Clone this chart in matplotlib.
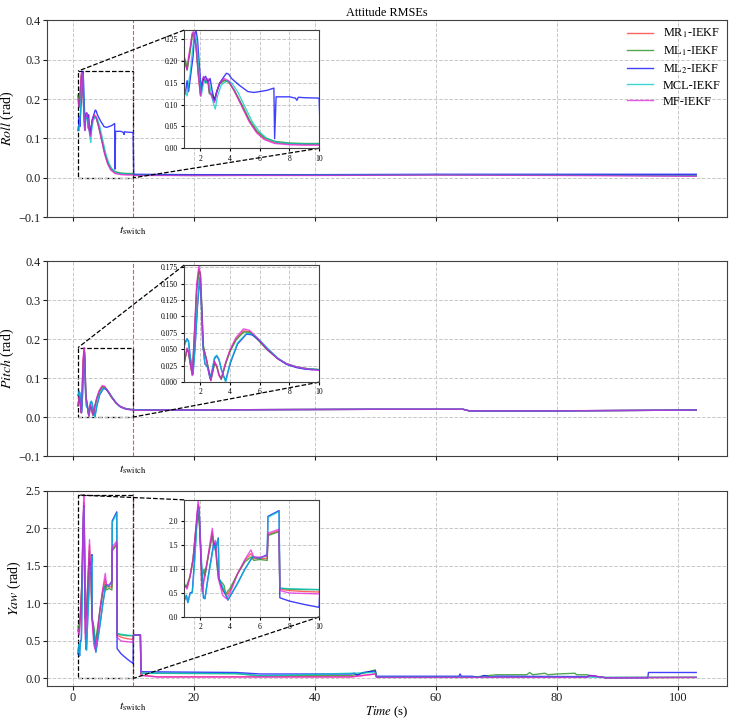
import matplotlib
matplotlib.use("Agg")
import matplotlib.pyplot as plt
from mpl_toolkits.axes_grid1.inset_locator import mark_inset

plt.rcParams['font.family'] = ['Liberation Serif', 'DejaVu Serif']
plt.rcParams['mathtext.fontset'] = 'stix'

labels = [r'MR$_1$-IEKF', r'ML$_1$-IEKF', r'ML$_2$-IEKF', 'MCL-IEKF', 'MF-IEKF']
colors = ['#ff3030', '#1a8a1a', '#0000ff', '#00c8c8', '#e020e0']
t_switch = 10.0

# ---------------- Roll ----------------
roll_t_a = [0.9, 1.0, 1.1, 1.2, 1.3, 1.45, 1.55, 1.7, 1.85, 2.0, 2.1, 2.2, 2.35, 2.5, 2.6, 2.75, 2.95,
            3.1, 3.3, 3.6, 3.9, 4.3, 4.8, 5.3, 5.8, 6.3, 7.0, 8.0, 9.0, 10.0]
roll_mr1 = [0.205, 0.195, 0.18, 0.205, 0.225, 0.262, 0.265, 0.235, 0.172, 0.122, 0.15, 0.162, 0.152, 0.158,
            0.128, 0.122, 0.108, 0.13, 0.149, 0.157, 0.153, 0.131, 0.097, 0.062, 0.037, 0.022, 0.013, 0.01, 0.009, 0.009]
roll_ml1 = [0.21, 0.2, 0.18, 0.2, 0.22, 0.26, 0.262, 0.235, 0.175, 0.125, 0.15, 0.16, 0.15, 0.155,
            0.125, 0.125, 0.11, 0.13, 0.148, 0.155, 0.152, 0.132, 0.1, 0.065, 0.04, 0.025, 0.016, 0.012, 0.011, 0.011]
roll_mf = [0.2, 0.19, 0.18, 0.21, 0.23, 0.265, 0.268, 0.235, 0.17, 0.12, 0.15, 0.165, 0.155, 0.16,
           0.13, 0.12, 0.105, 0.13, 0.15, 0.16, 0.155, 0.13, 0.095, 0.06, 0.035, 0.02, 0.011, 0.008, 0.007, 0.007]
roll_t_c = [0.9, 1.0, 1.1, 1.2, 1.3, 1.45, 1.6, 1.75, 1.9, 2.05, 2.15, 2.3, 2.45, 2.6, 2.75, 2.9, 3.0,
            3.15, 3.4, 3.8, 4.1, 4.5, 5.0, 5.5, 6.0, 6.5, 7.2, 8.0, 9.0, 10.0]
roll_mcl = [0.12, 0.13, 0.12, 0.15, 0.17, 0.22, 0.265, 0.25, 0.18, 0.12, 0.14, 0.16, 0.15, 0.15,
            0.12, 0.1, 0.09, 0.12, 0.145, 0.155, 0.15, 0.13, 0.095, 0.06, 0.037, 0.022, 0.013, 0.011, 0.01, 0.01]
roll_t_b = [0.9, 1.0, 1.1, 1.2, 1.35, 1.5, 1.6, 1.7, 1.8, 1.95, 2.05, 2.2, 2.35, 2.5, 2.65, 2.8, 2.95,
            3.1, 3.3, 3.6, 3.75, 3.9, 4.1, 4.6, 5.2, 5.6, 6.0, 6.5, 6.95, 7.0, 7.1, 7.5, 8.0, 8.4, 8.5,
            8.6, 9.0, 10.0]
roll_ml2 = [0.12, 0.13, 0.155, 0.13, 0.17, 0.21, 0.26, 0.27, 0.25, 0.18, 0.13, 0.16, 0.165, 0.15, 0.16,
            0.13, 0.11, 0.13, 0.15, 0.165, 0.172, 0.17, 0.16, 0.145, 0.13, 0.128, 0.13, 0.133, 0.138, 0.022,
            0.118, 0.118, 0.118, 0.115, 0.11, 0.117, 0.116, 0.115]
roll_tail_t = [10.1, 20, 40, 60, 80, 103]
roll_tail_mr1 = [0.007, 0.006, 0.007, 0.008, 0.007, 0.005]
roll_tail_ml1 = [0.008, 0.007, 0.007, 0.008, 0.007, 0.006]
roll_tail_ml2 = [0.009, 0.008, 0.008, 0.009, 0.009, 0.009]
roll_tail_mcl = [0.007, 0.006, 0.007, 0.008, 0.007, 0.005]
roll_tail_mf = [0.006, 0.006, 0.006, 0.007, 0.006, 0.004]

# ---------------- Pitch ----------------
pitch_t_a = [0.9, 1.0, 1.1, 1.2, 1.3, 1.45, 1.6, 1.75, 1.9, 2.0, 2.1, 2.2, 2.4, 2.55, 2.7, 2.85, 2.95,
             3.1, 3.25, 3.4, 3.7, 4.0, 4.4, 4.9, 5.3, 5.8, 6.5, 7.2, 7.8, 8.5, 9.0, 9.5, 10.0]
pitch_mr1 = [0.029, 0.04, 0.051, 0.045, 0.03, 0.011, 0.075, 0.145, 0.172, 0.162, 0.105, 0.052, 0.035, 0.018,
             0.003, 0.019, 0.03, 0.024, 0.011, 0.005, 0.029, 0.048, 0.066, 0.078, 0.077, 0.067, 0.05, 0.036,
             0.028, 0.023, 0.021, 0.02, 0.019]
pitch_ml1 = [0.028, 0.04, 0.05, 0.045, 0.03, 0.012, 0.07, 0.14, 0.168, 0.165, 0.11, 0.055, 0.035, 0.02,
             0.003, 0.018, 0.028, 0.024, 0.012, 0.004, 0.028, 0.047, 0.064, 0.076, 0.076, 0.066, 0.049, 0.036,
             0.028, 0.023, 0.021, 0.02, 0.019]
pitch_mf = [0.03, 0.04, 0.052, 0.045, 0.03, 0.01, 0.08, 0.15, 0.178, 0.16, 0.1, 0.05, 0.035, 0.015,
            0.002, 0.02, 0.032, 0.025, 0.01, 0.005, 0.03, 0.05, 0.068, 0.081, 0.079, 0.068, 0.05, 0.036,
            0.028, 0.023, 0.021, 0.019, 0.018]
pitch_t_c = [0.9, 1.0, 1.1, 1.2, 1.3, 1.5, 1.65, 1.8, 1.95, 2.05, 2.15, 2.3, 2.5, 2.65, 2.8, 2.95, 3.1,
             3.25, 3.4, 3.55, 3.7, 4.0, 4.5, 5.1, 5.5, 6.0, 6.5, 7.2, 7.8, 8.5, 9.0, 9.5, 10.0]
pitch_mcl = [0.055, 0.06, 0.066, 0.06, 0.04, 0.012, 0.06, 0.12, 0.16, 0.13, 0.06, 0.028, 0.022, 0.005,
             0.02, 0.038, 0.041, 0.035, 0.02, 0.01, 0.0, 0.03, 0.06, 0.074, 0.073, 0.064, 0.052, 0.037,
             0.028, 0.023, 0.021, 0.02, 0.019]
pitch_ml2 = [0.056, 0.062, 0.066, 0.062, 0.04, 0.012, 0.058, 0.115, 0.158, 0.128, 0.06, 0.028, 0.022,
             0.006, 0.018, 0.036, 0.04, 0.034, 0.02, 0.01, 0.002, 0.028, 0.058, 0.073, 0.072, 0.063, 0.051,
             0.036, 0.027, 0.022, 0.02, 0.019, 0.019]
pitch_tail_t = [15, 30, 50, 64.5, 65.5, 80, 103]
pitch_tail = [0.018, 0.019, 0.02, 0.02, 0.016, 0.016, 0.018]

# ---------------- Yaw ----------------
yaw_t_m = [0.9, 1.0, 1.1, 1.3, 1.5, 1.7, 1.85, 1.95, 2.1, 2.3, 2.55, 2.8, 2.9, 3.0, 3.1, 3.25, 3.5, 3.75,
           4.0, 4.5, 5.0, 5.4, 5.6, 6.0, 6.5, 6.55, 7.3, 7.35, 8.0, 9.0, 10.0]
yaw_mf = [0.62, 0.66, 0.58, 0.85, 1.2, 1.9, 2.45, 2.0, 0.52, 0.85, 1.35, 1.85, 1.5, 1.6, 1.2, 0.75, 0.45,
          0.38, 0.5, 0.9, 1.2, 1.4, 1.25, 1.25, 1.27, 1.75, 1.83, 0.55, 0.5, 0.49, 0.48]
yaw_mr1 = [0.64, 0.64, 0.62, 0.85, 1.2, 1.88, 2.35, 1.9, 0.6, 0.9, 1.32, 1.78, 1.48, 1.55, 1.15, 0.78,
           0.55, 0.45, 0.55, 0.9, 1.18, 1.32, 1.22, 1.22, 1.22, 1.72, 1.8, 0.58, 0.55, 0.53, 0.52]
yaw_t_g = [0.9, 1.0, 1.1, 1.3, 1.5, 1.7, 1.85, 1.95, 2.1, 2.25, 2.3, 2.55, 2.8, 2.9, 3.0, 3.2, 3.5, 3.6,
           3.7, 4.0, 4.5, 5.0, 5.4, 5.6, 6.0, 6.5, 6.55, 7.3, 7.35, 8.0, 9.0, 10.0]
yaw_ml1 = [0.7, 0.62, 0.68, 0.85, 1.2, 1.85, 2.2, 1.8, 0.8, 1.0, 0.85, 1.3, 1.7, 1.45, 1.5, 0.8, 0.7, 0.65,
           0.48, 0.6, 0.9, 1.15, 1.25, 1.18, 1.2, 1.18, 1.7, 1.78, 0.6, 0.58, 0.57, 0.57]
yaw_t_b = [0.9, 1.05, 1.15, 1.3, 1.45, 1.6, 1.8, 1.9, 2.05, 2.2, 2.3, 2.5, 2.9, 3.0, 3.2, 3.25, 3.5, 3.85,
           4.5, 5.0, 5.5, 6.0, 6.5, 6.55, 7.3, 7.35, 8.0, 9.0, 10.0]
yaw_ml2 = [0.33, 0.45, 0.3, 0.5, 0.52, 1.2, 2.2, 2.3, 1.2, 0.4, 0.38, 0.8, 1.55, 1.4, 1.65, 0.8, 0.6, 0.35,
           0.7, 1.0, 1.25, 1.23, 1.3, 2.1, 2.22, 0.4, 0.33, 0.26, 0.2]
yaw_mcl = [0.35, 0.45, 0.3, 0.48, 0.5, 1.1, 2.15, 2.28, 1.3, 0.45, 0.38, 0.78, 1.5, 1.42, 1.63, 0.82, 0.62,
           0.36, 0.7, 1.0, 1.25, 1.23, 1.28, 2.08, 2.2, 0.6, 0.59, 0.58, 0.57]
yaw_tail_t_b = [10.05, 11.2, 11.3, 27, 31, 46, 46.5, 47, 48, 50, 50.2, 63.8, 64, 64.2, 66, 67, 68, 69, 70,
                85, 85.5, 88, 95, 95.1, 103]
yaw_tail_ml2 = [0.58, 0.58, 0.09, 0.08, 0.06, 0.06, 0.07, 0.045, 0.08, 0.1, 0.03, 0.03, 0.06, 0.03, 0.03,
                0.015, 0.04, 0.02, 0.03, 0.025, 0.04, 0.01, 0.01, 0.08, 0.08]
yaw_tail_t_g = [10.05, 11.2, 11.3, 27, 31, 46, 48, 50, 50.2, 66, 70, 75, 75.5, 76, 78, 78.5, 80, 83, 83.2,
                85, 85.5, 88, 103]
yaw_tail_ml1 = [0.58, 0.58, 0.07, 0.065, 0.035, 0.04, 0.07, 0.115, 0.015, 0.015, 0.05, 0.05, 0.08, 0.05,
                0.07, 0.05, 0.06, 0.07, 0.05, 0.05, 0.035, 0.012, 0.015]
yaw_tail_t_m = [10.05, 11.2, 11.3, 14, 46, 50, 50.2, 70, 85, 85.5, 88, 103]
yaw_tail_mf = [0.58, 0.58, 0.04, 0.02, 0.02, 0.06, 0.015, 0.015, 0.015, 0.04, 0.01, 0.015]
yaw_tail_mr1 = [0.58, 0.58, 0.045, 0.022, 0.022, 0.06, 0.016, 0.016, 0.016, 0.04, 0.011, 0.015]
yaw_tail_t_c = [10.05, 11.2, 11.3, 27, 31, 50, 50.2, 103]
yaw_tail_mcl = [0.58, 0.58, 0.07, 0.065, 0.035, 0.08, 0.02, 0.015]

roll_series = [
    (roll_t_a + roll_tail_t, roll_mr1 + roll_tail_mr1),
    (roll_t_a + roll_tail_t, roll_ml1 + roll_tail_ml1),
    (roll_t_b + roll_tail_t, roll_ml2 + roll_tail_ml2),
    (roll_t_c + roll_tail_t, roll_mcl + roll_tail_mcl),
    (roll_t_a + roll_tail_t, roll_mf + roll_tail_mf),
]
pitch_series = [
    (pitch_t_a + pitch_tail_t, pitch_mr1 + pitch_tail),
    (pitch_t_a + pitch_tail_t, pitch_ml1 + pitch_tail),
    (pitch_t_c + pitch_tail_t, pitch_ml2 + pitch_tail),
    (pitch_t_c + pitch_tail_t, pitch_mcl + pitch_tail),
    (pitch_t_a + pitch_tail_t, pitch_mf + pitch_tail),
]
yaw_series = [
    (yaw_t_m + yaw_tail_t_m, yaw_mr1 + yaw_tail_mr1),
    (yaw_t_g + yaw_tail_t_g, yaw_ml1 + yaw_tail_ml1),
    (yaw_t_b + yaw_tail_t_b, yaw_ml2 + yaw_tail_ml2),
    (yaw_t_b + yaw_tail_t_c, yaw_mcl + yaw_tail_mcl),
    (yaw_t_m + yaw_tail_t_m, yaw_mf + yaw_tail_mf),
]

panels = [
    dict(series=roll_series, name='Roll', ylim=(-0.1, 0.4), yticks=[-0.1, 0.0, 0.1, 0.2, 0.3, 0.4],
         inset=[0.2015, 0.35, 0.1985, 0.6], iylim=(0, 0.271), iyticks=[0, 0.05, 0.1, 0.15, 0.2, 0.25],
         ifmt='%.2f', rect=[0.064, 0.700, 0.924, 0.272]),
    dict(series=pitch_series, name='Pitch', ylim=(-0.1, 0.4), yticks=[-0.1, 0.0, 0.1, 0.2, 0.3, 0.4],
         inset=[0.2015, 0.379, 0.1985, 0.6], iylim=(0, 0.178),
         iyticks=[0, 0.025, 0.05, 0.075, 0.1, 0.125, 0.15, 0.175], ifmt='%.3f',
         rect=[0.064, 0.370, 0.924, 0.2695]),
    dict(series=yaw_series, name='Yaw', ylim=(-0.1, 2.5), yticks=[0.0, 0.5, 1.0, 1.5, 2.0, 2.5],
         inset=[0.2015, 0.354, 0.1985, 0.6], iylim=(0, 2.445), iyticks=[0, 0.5, 1.0, 1.5, 2.0],
         ifmt='%.1f', rect=[0.064, 0.0525, 0.924, 0.2695]),
]

fig = plt.figure(figsize=(7.36, 7.24), dpi=100)
grid_kw = dict(color='#c8c8c8', linestyle='--', linewidth=0.7)
spine_c = '#404040'
fs = 8.8

for i, p in enumerate(panels):
    ax = fig.add_axes(p['rect'])
    for (t, v), c, lab in zip(p['series'], colors, labels):
        ax.plot(t, v, color=c, lw=1.0, alpha=0.75, label=lab)
    ax.axvline(t_switch, color='red', ls='--', lw=0.8, alpha=0.7)
    ax.set_ylim(*p['ylim'])
    ax.set_yticks(p['yticks'])
    ax.set_xticks([0, 20, 40, 60, 80, 100])
    ax.grid(True, **grid_kw)
    ax.tick_params(labelsize=fs, colors='#202020', length=3, pad=1.5)
    for s in ax.spines.values():
        s.set_color(spine_c)
    ax.set_ylabel(r'$%s$ (rad)' % p['name'], fontsize=10, labelpad=2)
    if i < 2:
        ax.tick_params(labelbottom=False)
        ax.annotate(r'$t_{\rm switch}$', xy=(t_switch, 0), xycoords=('data', 'axes fraction'),
                    xytext=(0, -5), textcoords='offset points', ha='center', va='top', fontsize=fs)
    else:
        ax.annotate(r'$t_{\rm switch}$', xy=(t_switch, 0), xycoords=('data', 'axes fraction'),
                    xytext=(0, -10.5), textcoords='offset points', ha='center', va='top', fontsize=fs)
        ax.set_xlabel(r'$Time$ (s)', fontsize=9.2, labelpad=0)
    if i == 0:
        ax.set_title('Attitude RMSEs', fontsize=fs, pad=3)
        ax.legend(loc='upper right', frameon=False, fontsize=fs, handlelength=2.1,
                  borderaxespad=0.15, labelspacing=0.33, handletextpad=0.8)

    axins = ax.inset_axes(p['inset'])
    for (t, v), c in zip(p['series'], colors):
        axins.plot(t, v, color=c, lw=1.0, alpha=0.75)
    axins.set_xlim(0.9, 10)
    axins.set_ylim(*p['iylim'])
    axins.set_xticks([2, 4, 6, 8, 10])
    axins.set_yticks(p['iyticks'])
    axins.yaxis.set_major_formatter(matplotlib.ticker.FormatStrFormatter(p['ifmt']))
    axins.tick_params(labelsize=5.5, length=2.5, pad=2)
    axins.grid(True, **grid_kw)
    for s in axins.spines.values():
        s.set_color(spine_c)
    mark_inset(ax, axins, loc1=2, loc2=4, fc='none', ec='k', ls='--', lw=0.9)

fig.savefig('out.png', dpi=100)
